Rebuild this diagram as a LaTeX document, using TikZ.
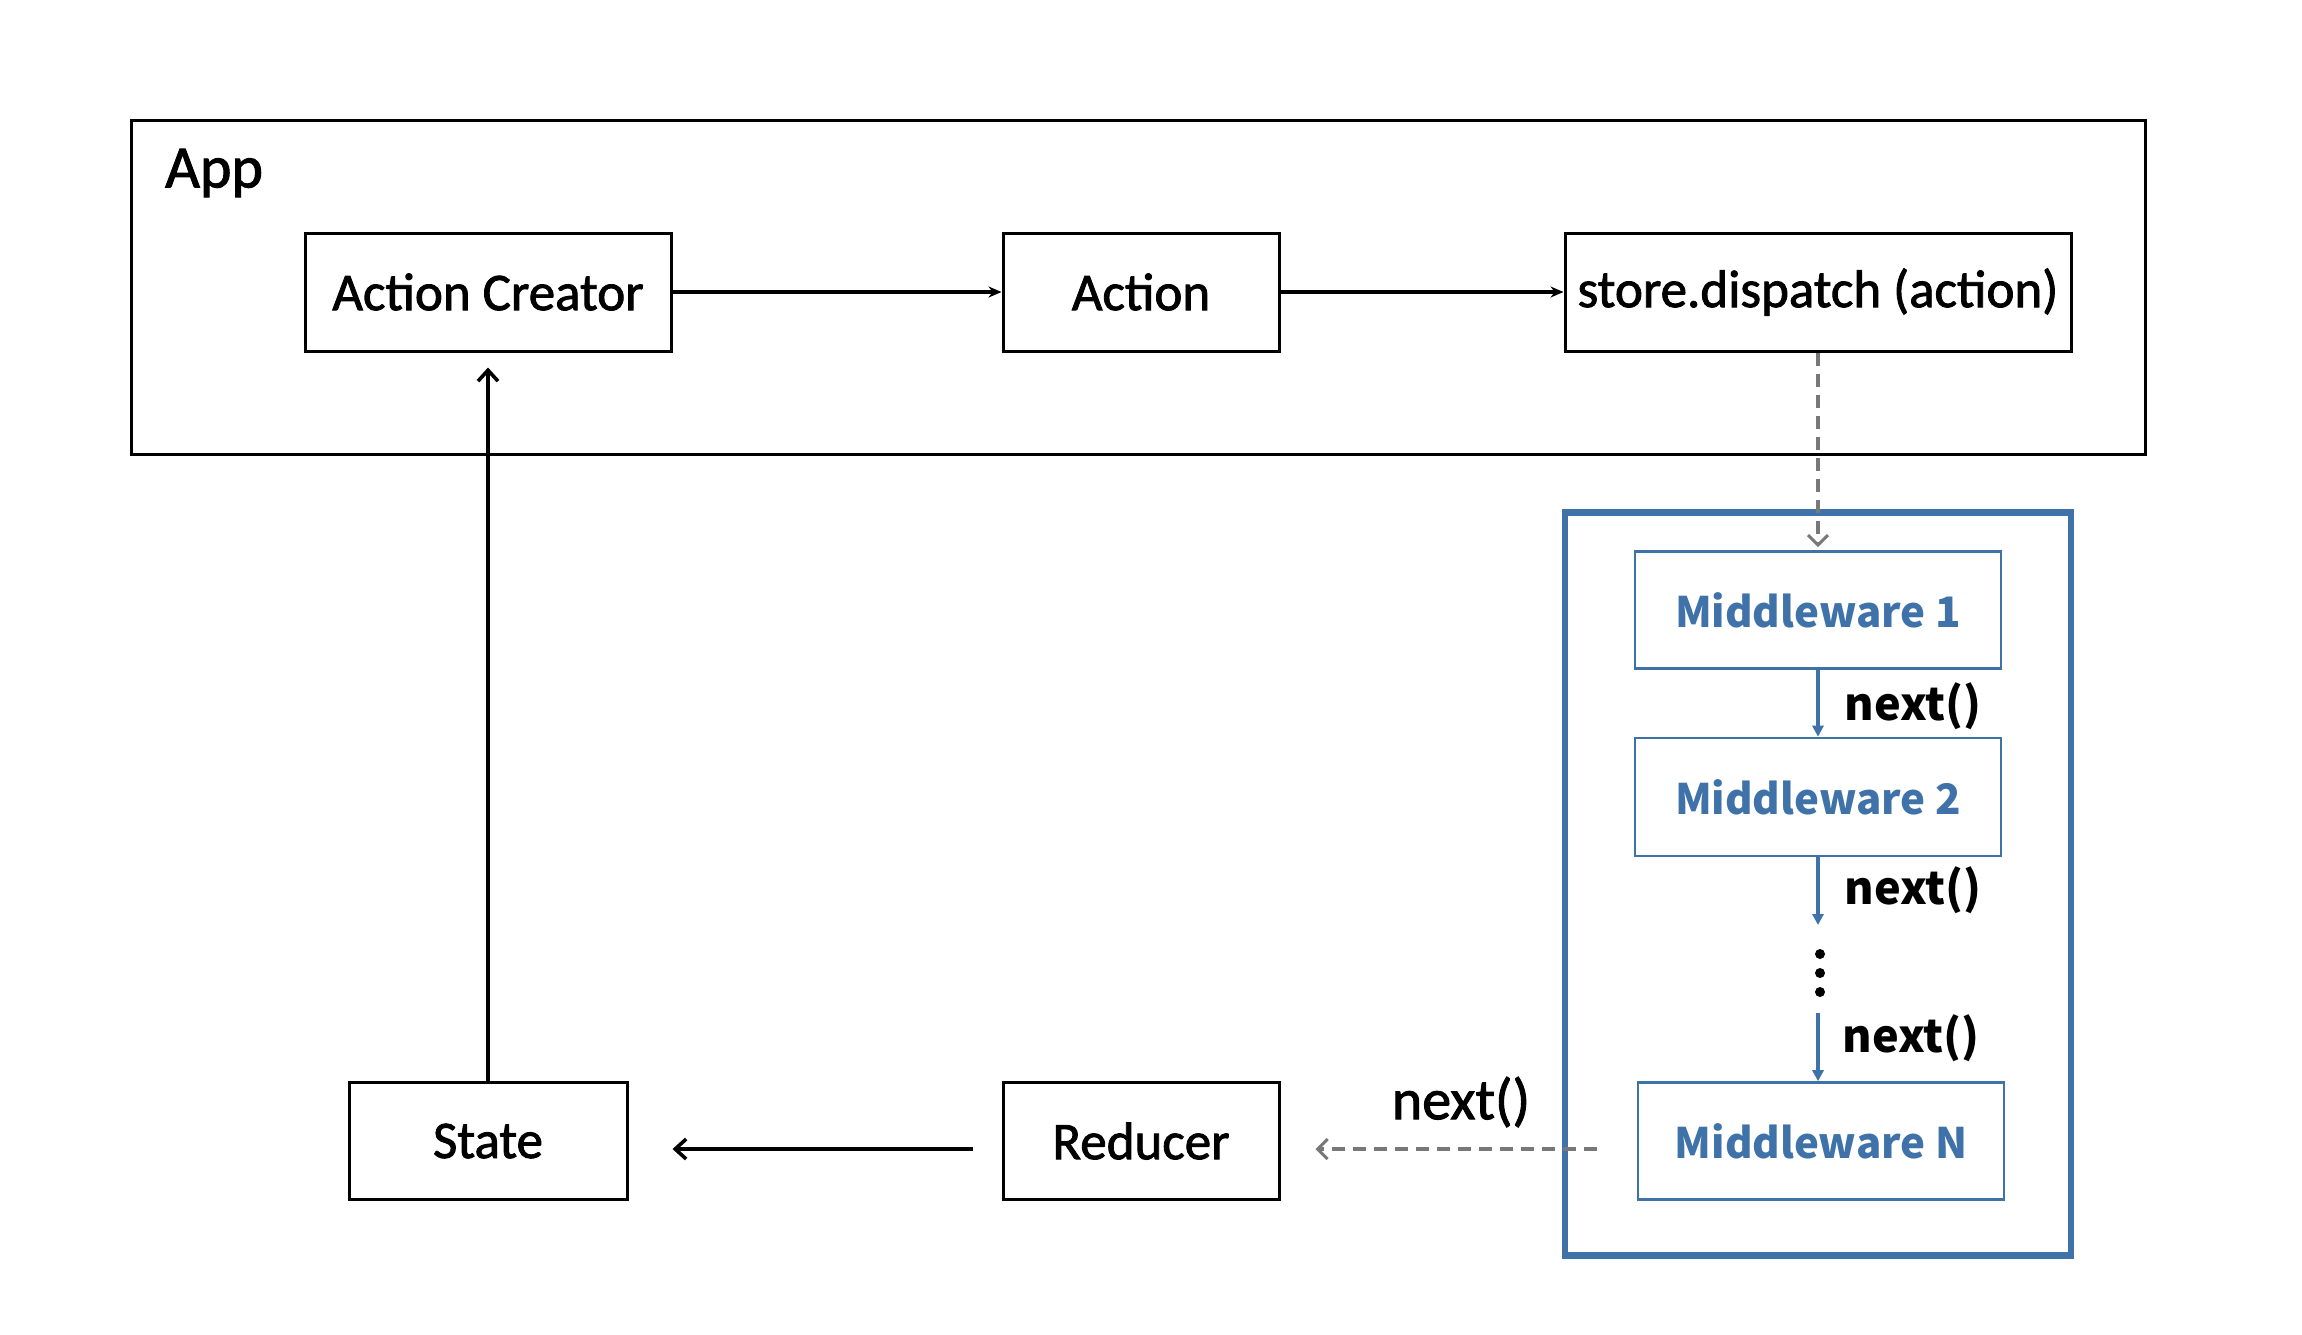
\documentclass[tikz,border=0pt]{standalone}
\usepackage{fontspec}
\setmainfont{Carlito}
\newfontfamily\boxfont{Carlito}[FakeBold=1.6]
\newfontfamily\mwfont{Noto Sans CJK KR}
\usetikzlibrary{arrows.meta}
\definecolor{mwblue}{RGB}{62,114,168}
\definecolor{dashgray}{RGB}{120,120,120}
\tikzset{
  box/.style={draw=black, line width=3pt, fill=white, inner sep=0pt, font=\boxfont\fontsize{53}{62}\selectfont},
  mwbox/.style={draw=mwblue, line width=2.6pt, fill=white, inner sep=0pt, text=mwblue, font=\mwfont\bfseries\fontsize{42}{50}\selectfont},
  nextlbl/.style={inner sep=0pt, font=\mwfont\bfseries\fontsize{45}{52}\selectfont},
  solidarrow/.style={line width=3.6pt, -{Stealth[length=13pt,width=11pt]}},
  openarrow/.style={line width=3.6pt, -{Straight Barb[length=11pt,width=20pt,line width=3.6pt]}},
  dasharrow/.style={draw=dashgray, line width=3.2pt, dash pattern=on 13pt off 8pt, -{Straight Barb[length=10pt,width=20pt,line width=3pt]}},
  bluearrow/.style={draw=mwblue, line width=3.4pt, -{Triangle[length=11pt,width=11pt]}}
}
\begin{document}
\begin{tikzpicture}[x=1pt,y=-1pt]
\useasboundingbox[fill=white] (0,0) rectangle (2302,1334);
% App frame
\node[draw=black, line width=3pt, minimum width=2014pt, minimum height=334pt, inner sep=0pt] (app) at (1138,287) {};
\node[anchor=west, inner sep=0pt, font=\boxfont\fontsize{60}{70}\selectfont] (applbl) at (165,173) {App};
% top row
\node[box, minimum width=366pt, minimum height=118pt] (ac) at (488,292) {Action Creator};
\node[box, minimum width=276pt, minimum height=118pt] (action) at (1141,292) {Action};
\node[box, minimum width=506pt, minimum height=118pt] (dispatch) at (1818,292) {store.dispatch (action)};
% middleware container
\node[draw=mwblue, line width=6.5pt, minimum width=506pt, minimum height=743pt, inner sep=0pt] (mwframe) at (1818,884) {};
\node[mwbox, minimum width=366pt, minimum height=117pt] (mw1) at (1818,610) {Middleware 1};
\node[mwbox, minimum width=366pt, minimum height=118pt] (mw2) at (1818,797) {Middleware 2};
\node[mwbox, minimum width=366pt, minimum height=117pt] (mwn) at (1821,1141) {Middleware N};
% bottom row
\node[box, minimum width=278pt, minimum height=117pt] (state) at (488,1141) {State};
\node[box, minimum width=276pt, minimum height=117pt] (reducer) at (1141,1141) {Reducer};
% labels
\node[nextlbl] (n1) at (1913,706) {next()};
\node[nextlbl] (n2) at (1913,890) {next()};
\node[nextlbl] (n3) at (1911,1038) {next()};
\node[inner sep=0pt, font=\boxfont\fontsize{58}{66}\selectfont] (n4) at (1461,1102) {next()};
% dots
\fill (1820,954) circle (5pt) (1820,973) circle (5pt) (1820,992) circle (5pt);
\coordinate (c2end) at (1818,925);
\coordinate (c3start) at (1818,1013);
% connectors
\draw[solidarrow] (ac.east) -- (action.west);
\draw[solidarrow] (action.east) -- (dispatch.west);
\draw[dasharrow, shorten >=3pt] (dispatch.south) -- (mw1.north);
\draw[bluearrow] (mw1.south) -- (mw2.north);
\draw[bluearrow] (mw2.south) -- (c2end);
\draw[bluearrow] (c3start) -- (c3start |- mwn.north);
\draw[dasharrow, shorten <=40pt, shorten >=35pt] (mwn.west |- 0,1149) -- (reducer.east |- 0,1149);
\draw[openarrow, shorten <=29pt, shorten >=44pt] (reducer.west |- 0,1149) -- (state.east |- 0,1149);
\draw[openarrow, shorten >=15pt] (state.north) -- (ac.south);
\end{tikzpicture}
\end{document}
